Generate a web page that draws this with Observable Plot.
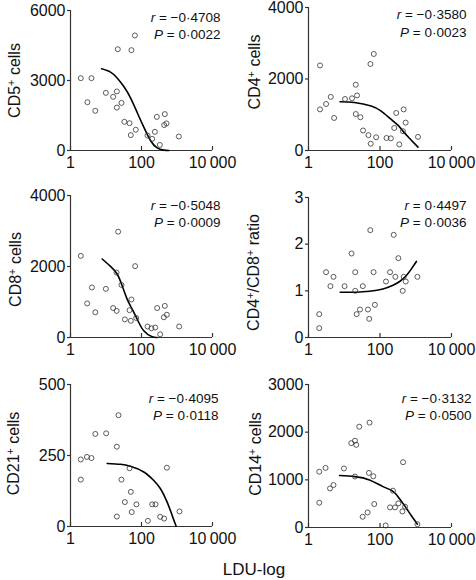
<!DOCTYPE html>
<html><head><meta charset="utf-8">
<script src="https://cdn.jsdelivr.net/npm/d3@7"></script>
<script src="https://cdn.jsdelivr.net/npm/@observablehq/plot@0.6"></script>
<style>
html,body{margin:0;padding:0;background:#fff;}
#fig{position:relative;width:476px;height:580px;font-family:'Liberation Sans',Arial,Helvetica,sans-serif;color:#111;}
#fig svg{position:absolute;overflow:visible;}
#xtitle{position:absolute;left:174px;width:160px;top:561px;text-align:center;font-size:17px;line-height:17px;}
</style></head><body>
<div id="fig"><div id="xtitle">LDU-log</div></div>
<script>
// ---------- data ----------
const xTicks = [1, 100, 10000];
const xTickLabels = ["1", "100", "10\u2009000"];

const cd5X = [1.95, 3.9, 3.0, 5.0, 9.9, 15.9, 20.2, 21.5, 52, 65, 20.2, 27.3, 33, 46, 50, 69, 148, 200, 238, 270, 328, 435, 454, 506, 1127];
const cd5Y = [3100, 3100, 2070, 1700, 2470, 2300, 2530, 4340, 4300, 4930, 1840, 2040, 1230, 1170, 660, 890, 640, 500, 800, 1440, 240, 1090, 1560, 1160, 600];
const cd5FitX = [7.5, 13.4, 20.6, 31.8, 49, 75, 116, 179, 276, 426, 589];
const cd5FitY = [3500, 3360, 3110, 2740, 2260, 1640, 1000, 430, 110, 15, 0];

const cd4X = [2.1, 2.1, 3.1, 4.2, 5.2, 10.5, 16.5, 21, 22.8, 21, 28.3, 33.6, 47.5, 54, 67, 55, 78, 152, 201, 284, 250, 346, 439, 458, 521, 1156];
const cd4Y = [2380, 1150, 1300, 1500, 910, 1440, 1460, 1840, 1540, 1020, 930, 560, 430, 2420, 2700, 190, 370, 350, 340, 1050, 630, 170, 540, 1150, 780, 380];
const cd4FitX = [7.6, 19.2, 56.5, 108, 206, 317, 439, 675, 1156];
const cd4FitY = [1365, 1343, 1246, 1103, 869, 710, 542, 336, 93];

const cd8X = [1.95, 2.95, 4.0, 5.0, 9.9, 15.9, 20, 19.8, 22, 27.3, 34, 46, 52, 50, 66, 71, 148, 191, 243, 276, 336, 427, 454, 517, 1151];
const cd8Y = [2300, 960, 1410, 710, 1370, 830, 750, 1830, 2980, 1480, 510, 770, 1070, 470, 2010, 550, 310, 260, 280, 830, 90, 570, 890, 640, 310];
const cd8FitX = [7.8, 13.4, 20.6, 28.5, 39.4, 54.5, 75.5, 116, 200, 276];
const cd8FitY = [2212, 2004, 1788, 1459, 1082, 800, 518, 188, 19, 0];

const ratioX = [2.0, 2.0, 3.1, 4.1, 5.0, 10.2, 16, 20.3, 20.3, 22.2, 27.5, 33, 46, 50, 53.5, 66, 72, 147, 191, 242, 269, 326, 432, 461, 525, 1114];
const ratioY = [0.5, 0.2, 1.4, 1.1, 1.3, 1.1, 1.8, 1.4, 1.0, 0.5, 0.6, 1.1, 0.6, 0.4, 2.3, 1.4, 0.7, 1.2, 1.4, 2.2, 1.3, 1.7, 1.0, 1.3, 1.2, 1.3];
const ratioFitX = [7.7, 21.7, 51, 121, 231, 356, 547, 756, 1044];
const ratioFitY = [0.97, 0.97, 0.99, 1.04, 1.12, 1.20, 1.33, 1.47, 1.63];

const cd21X = [1.95, 1.95, 2.9, 3.9, 5.0, 10.1, 20.2, 22.5, 20.2, 27.3, 34, 46, 50, 53, 72, 151, 200, 248, 336, 435, 517, 1175];
const cd21Y = [236, 165, 245, 241, 326, 328, 281, 392, 35, 165, 86, 205, 122, 51, 78, 20, 78, 78, 34, 28, 207, 53];
const cd21FitX = [10.8, 25.6, 49, 116, 222, 343, 528, 731, 948];
const cd21FitY = [222, 219, 212, 192, 162, 133, 86, 39, 1];

const cd14X = [2.0, 2.0, 3.0, 4.0, 5.0, 9.8, 15.7, 19.9, 21.7, 19.9, 26.3, 32.7, 45, 49, 51, 65, 69, 144, 191, 231, 263, 326, 423, 442, 502, 1114];
const cd14Y = [1170, 520, 1250, 820, 890, 1240, 1770, 1820, 1735, 1070, 2115, 225, 316, 1145, 2200, 1075, 492, 42, 422, 773, 422, 506, 337, 1370, 436, 70];
const cd14FitX = [7.4, 19.9, 51, 121, 231, 356, 502, 756, 1114];
const cd14FitY = [1090, 1068, 998, 857, 759, 597, 443, 246, 70];

const panelLabels = ["CD5⁺ cells", "CD4⁺ cells", "CD8⁺ cells", "CD4⁺/CD8⁺ ratio", "CD21⁺ cells", "CD14⁺ cells"];
const rTexts = ["r = \u22120·4708", "r = \u22120·3580", "r = \u22120·5048", "r = 0·4497", "r = \u22120·4095", "r = \u22120·3132"];
const pTexts = ["P = 0·0022", "P = 0·0023", "P = 0·0009", "P = 0·0036", "P = 0·0118", "P = 0·0500"];
const yMax = [6000, 4000, 4000, 3, 500, 3000];
const yTicks = [[0, 3000, 6000], [0, 2000, 4000], [0, 2000, 4000], [0, 1, 2, 3], [0, 250, 500], [0, 1000, 2000, 3000]];
const seriesX = [cd5X, cd4X, cd8X, ratioX, cd21X, cd14X];
const seriesY = [cd5Y, cd4Y, cd8Y, ratioY, cd21Y, cd14Y];
const fitX = [cd5FitX, cd4FitX, cd8FitX, ratioFitX, cd21FitX, cd14FitX];
const fitY = [cd5FitY, cd4FitY, cd8FitY, ratioFitY, cd21FitY, cd14FitY];

// ---------- layout ----------
const layout = [
  {left: 0,   top: 0,   width: 236, height: 180, mt: 10, mb: 30, ml: 70, mr: 24, labDx: -55.5, labDy: 0,  annDx: 8,  rDy: 11.7, pDy: 28.3},
  {left: 236, top: 0,   width: 240, height: 180, mt: 7,  mb: 30, ml: 72, mr: 25, labDx: -54,   labDy: -7, annDx: 15, rDy: 11.7, pDy: 29},
  {left: 0,   top: 180, width: 236, height: 180, mt: 15, mb: 23, ml: 70, mr: 24, labDx: -55,   labDy: 3,  annDx: 8,  rDy: 14.3, pDy: 31},
  {left: 236, top: 180, width: 240, height: 180, mt: 17, mb: 23, ml: 72, mr: 25, labDx: -54.5, labDy: 5,  annDx: 15, rDy: 12.3, pDy: 29},
  {left: 0,   top: 360, width: 236, height: 190, mt: 24, mb: 24, ml: 70, mr: 24, labDx: -57,   labDy: -2, annDx: 6,  rDy: 18.3, pDy: 35.3},
  {left: 236, top: 360, width: 240, height: 190, mt: 24, mb: 23, ml: 72, mr: 25, labDx: -53,   labDy: -2, annDx: 20, rDy: 18.3, pDy: 35.3}
];

const axisColor = "#333";
const ns = "http://www.w3.org/2000/svg";

function richify(svg) {
  svg.querySelectorAll("text").forEach(t => {
    const s = t.textContent;
    const italic = /^[rP] = /.test(s);
    const sup = s.includes("⁺");
    if (!italic && !sup) return;
    while (t.firstChild) t.removeChild(t.firstChild);
    let rest = s;
    if (italic) {
      const ts = document.createElementNS(ns, "tspan");
      ts.setAttribute("font-style", "italic");
      ts.textContent = s[0];
      t.appendChild(ts);
      rest = s.slice(1);
    }
    const parts = rest.split("⁺");
    parts.forEach((part, i) => {
      if (part) t.appendChild(document.createTextNode(part));
      if (i < parts.length - 1) {
        const ts = document.createElementNS(ns, "tspan");
        ts.setAttribute("font-size", "0.68em");
        ts.setAttribute("baseline-shift", "48%");
        ts.textContent = "+";
        t.appendChild(ts);
      }
    });
  });
}

const fig = document.getElementById("fig");
layout.forEach((L, i) => {
  const pts = seriesX[i].map((x, j) => ({x, y: seriesY[i][j]}));
  const fit = fitX[i].map((x, j) => ({x, y: fitY[i][j]}));
  const svg = Plot.plot({
    width: L.width,
    height: L.height,
    marginTop: L.mt, marginBottom: L.mb, marginLeft: L.ml, marginRight: L.mr,
    style: {fontFamily: "'Liberation Sans', Arial, Helvetica, sans-serif", fontSize: "16px", color: "#111", background: "transparent", overflow: "visible"},
    x: {type: "log", domain: [1, 10000]},
    y: {domain: [0, yMax[i]]},
    marks: [
      Plot.ruleX([1], {stroke: axisColor, strokeWidth: 1.2}),
      Plot.ruleY([0], {stroke: axisColor, strokeWidth: 1.2}),
      Plot.axisY({ticks: yTicks[i], tickSize: 3, tickPadding: 2, label: null, tickFormat: d => String(d), stroke: axisColor, strokeWidth: 1.2, fontSize: 16}),
      Plot.axisX({ticks: xTicks, tickSize: -4, tickPadding: 10, label: null, tickFormat: d => xTickLabels[xTicks.indexOf(d)], stroke: axisColor, strokeWidth: 1.2, fontSize: 16}),
      Plot.line(fit, {x: "x", y: "y", curve: "natural", stroke: "#000", strokeWidth: 1.6}),
      Plot.dot(pts, {x: "x", y: "y", r: 2.5, stroke: "#333", strokeWidth: 0.8, fill: "none"}),
      Plot.text([panelLabels[i]], {text: d => d, frameAnchor: "left", textAnchor: "middle", lineAnchor: "middle", rotate: -90, dx: L.labDx, dy: L.labDy, fontSize: 16, fill: "#111"}),
      Plot.text([rTexts[i]], {text: d => d, frameAnchor: "top-right", textAnchor: "end", lineAnchor: "bottom", dx: L.annDx, dy: L.rDy, fontSize: 13.5, fill: "#111"}),
      Plot.text([pTexts[i]], {text: d => d, frameAnchor: "top-right", textAnchor: "end", lineAnchor: "bottom", dx: L.annDx, dy: L.pDy, fontSize: 13.5, fill: "#111"})
    ]
  });
  svg.style.left = L.left + "px";
  svg.style.top = L.top + "px";
  richify(svg);
  fig.appendChild(svg);
});
</script>
</body></html>
